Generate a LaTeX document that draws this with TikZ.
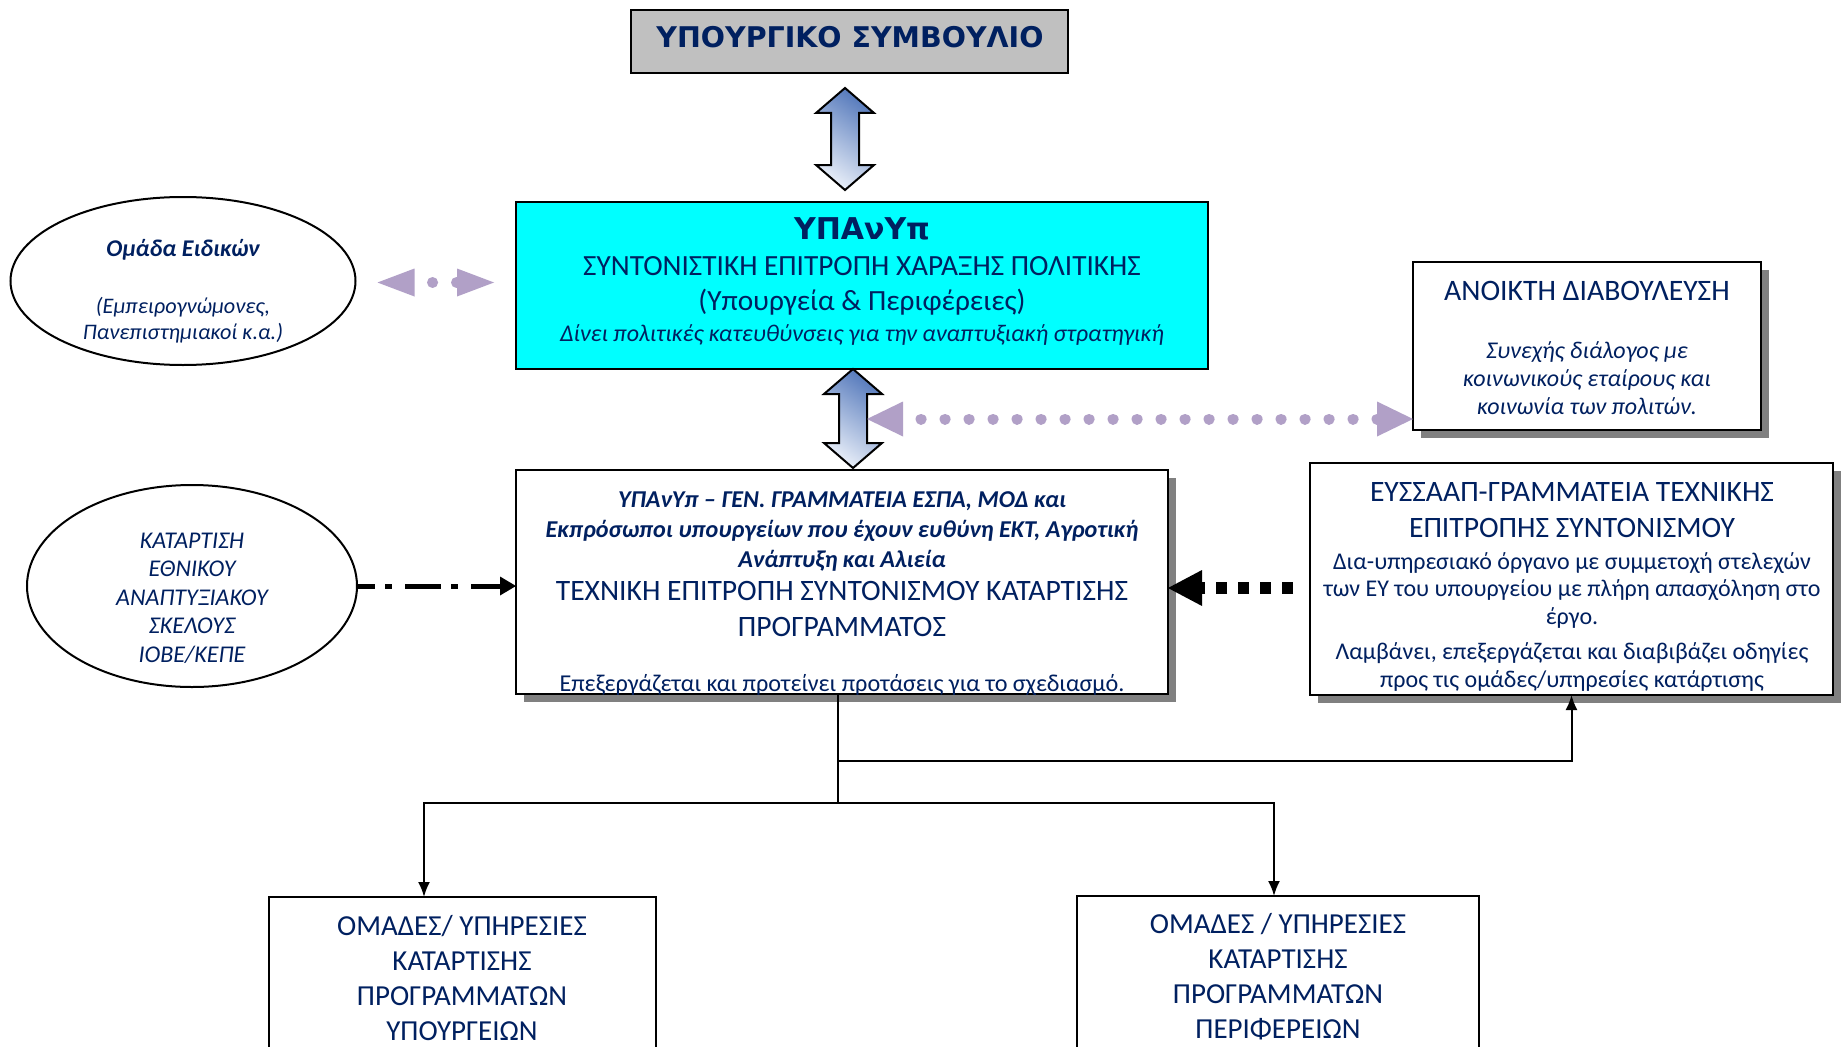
\documentclass[tikz,border=0pt]{standalone}
\usepackage{fontspec}
\setmainfont{Carlito}
\newfontfamily\heavyfont{DejaVu Sans}
\usetikzlibrary{arrows.meta,shapes.geometric,shadows,calc}
\definecolor{txtblue}{RGB}{0,32,96}
\definecolor{boxgray}{RGB}{192,192,192}
\definecolor{cyanfill}{RGB}{0,255,255}
\definecolor{lav}{RGB}{177,160,199}
\definecolor{shgray}{RGB}{128,128,128}
\definecolor{arrdark}{RGB}{86,122,188}
\definecolor{arrlight}{RGB}{232,238,248}
\newcommand\fsz[1]{\fontsize{#1}{#1}\selectfont}
\newcommand\dblarrow[2]{\path[blockarrow] let \p1=#1, \p2=#2 in
 (\x1,\y1) -- (\x1+29pt,\y1-25pt) -- (\x1+14pt,\y1-25pt) -- (\x1+14pt,\y2+25pt)
 -- (\x1+29pt,\y2+25pt) -- (\x1,\y2) -- (\x1-29pt,\y2+25pt) -- (\x1-14pt,\y2+25pt)
 -- (\x1-14pt,\y1-25pt) -- (\x1-29pt,\y1-25pt) -- cycle;}
\begin{document}
\begin{tikzpicture}[x=1pt,y=-1pt,
  box/.style={draw=black, line width=2pt, anchor=north west, inner sep=0pt, outer sep=0pt},
  shad/.style={drop shadow={shadow xshift=8pt, shadow yshift=-8pt, fill=shgray, opacity=1}},
  ell/.style={draw=black, line width=2pt, ellipse, inner sep=0pt, outer sep=0pt, fill=white},
  txt/.style={anchor=base, inner sep=0pt, outer sep=0pt, text=txtblue},
  blockarrow/.style={draw=black, line width=2pt, top color=arrdark, bottom color=arrlight, shading angle=-35},
  purpledots/.style={draw=lav, line width=11pt, line cap=round, dash pattern=on 0.1pt off 23.9pt, dash phase=6pt},
  conn/.style={draw=black, line width=2pt},
  ltip/.style={-{Latex[length=15pt,width=12pt]}},
]
\path[use as bounding box, clip] (0,0) rectangle (1843,1046);
\fill[white] (0,0) rectangle (1843,1046);

% boxes
\node[box, fill=boxgray, minimum width=437pt, minimum height=63pt] (top) at (631,10) {};
\node[box, fill=cyanfill, minimum width=692pt, minimum height=167pt] (cyan) at (516,202) {};
\node[box, shad, fill=white, minimum width=348pt, minimum height=168pt] (anoikti) at (1413,262) {};
\node[box, shad, fill=white, minimum width=652pt, minimum height=224pt] (lower) at (516,470) {};
\node[box, shad, fill=white, minimum width=523pt, minimum height=232pt] (eys) at (1310,463) {};
\node[box, fill=white, minimum width=387pt, minimum height=220pt] (bl) at (269,897) {};
\node[box, fill=white, minimum width=402pt, minimum height=220pt] (br) at (1077,896) {};
\node[ell, minimum width=345pt, minimum height=168pt] (ell1) at (183,281) {};
\node[ell, minimum width=330pt, minimum height=202pt] (ell2) at (192,586) {};

% texts
\node[txt, font=\heavyfont\bfseries\fsz{28.5}] (ttop) at (850,48) {ΥΠΟΥΡΓΙΚΟ ΣΥΜΒΟΥΛΙΟ};

\node[txt, font=\heavyfont\bfseries\fsz{30}] (c1) at (862,239) {ΥΠΑνΥπ};
\node[txt, font=\fsz{29.3}] (c2) at (862,275) {ΣΥΝΤΟΝΙΣΤΙΚΗ ΕΠΙΤΡΟΠΗ ΧΑΡΑΞΗΣ ΠΟΛΙΤΙΚΗΣ};
\node[txt, font=\fsz{29.3}] (c3) at (862,310) {(Υπουργεία \& Περιφέρειες)};
\node[txt, font=\itshape\fsz{24}] (c4) at (862,341) {Δίνει πολιτικές κατευθύνσεις για την αναπτυξιακή στρατηγική};

\node[txt, font=\bfseries\itshape\fsz{24}] (e1a) at (183,256) {Ομάδα Ειδικών};
\node[txt, font=\itshape\fsz{22.2}] (e1b) at (183,313) {(Εμπειρογνώμονες,};
\node[txt, font=\itshape\fsz{22.2}] (e1c) at (183,339) {Πανεπιστημιακοί κ.α.)};

\node[txt, font=\fsz{29.7}] (a1) at (1587,300) {ΑΝΟΙΚΤΗ ΔΙΑΒΟΥΛΕΥΣΗ};
\node[txt, font=\itshape\fsz{24}] (a2) at (1587,358) {Συνεχής διάλογος με};
\node[txt, font=\itshape\fsz{24}] (a3) at (1587,386) {κοινωνικούς εταίρους και};
\node[txt, font=\itshape\fsz{24}] (a4) at (1587,414) {κοινωνία των πολιτών.};

\node[txt, font=\itshape\fsz{24}] (e2a) at (192,548) {ΚΑΤΑΡΤΙΣΗ};
\node[txt, font=\itshape\fsz{24}] (e2b) at (192,576.5) {ΕΘΝΙΚΟΥ};
\node[txt, font=\itshape\fsz{24}] (e2c) at (192,605) {ΑΝΑΠΤΥΞΙΑΚΟΥ};
\node[txt, font=\itshape\fsz{24}] (e2d) at (192,633.5) {ΣΚΕΛΟΥΣ};
\node[txt, font=\itshape\fsz{24}] (e2e) at (192,662) {ΙΟΒΕ/ΚΕΠΕ};

\node[txt, font=\bfseries\itshape\fsz{24.2}] (l1) at (842,507) {ΥΠΑνΥπ – ΓΕΝ. ΓΡΑΜΜΑΤΕΙΑ ΕΣΠΑ, ΜΟΔ και};
\node[txt, font=\bfseries\itshape\fsz{24.2}] (l2) at (842,537) {Εκπρόσωποι υπουργείων που έχουν ευθύνη ΕΚΤ, Αγροτική};
\node[txt, font=\bfseries\itshape\fsz{24.2}] (l3) at (842,567) {Ανάπτυξη και Αλιεία};
\node[txt, font=\fsz{29.6}] (l4) at (842,600) {ΤΕΧΝΙΚΗ ΕΠΙΤΡΟΠΗ ΣΥΝΤΟΝΙΣΜΟΥ ΚΑΤΑΡΤΙΣΗΣ};
\node[txt, font=\fsz{29.6}] (l5) at (842,636) {ΠΡΟΓΡΑΜΜΑΤΟΣ};
\node[txt, font=\fsz{24.2}] (l6) at (842,691) {Επεξεργάζεται και προτείνει προτάσεις για το σχεδιασμό.};

\node[txt, font=\fsz{29.6}] (y1) at (1572,501) {ΕΥΣΣΑΑΠ-ΓΡΑΜΜΑΤΕΙΑ ΤΕΧΝΙΚΗΣ};
\node[txt, font=\fsz{29.6}] (y2) at (1572,537) {ΕΠΙΤΡΟΠΗΣ ΣΥΝΤΟΝΙΣΜΟΥ};
\node[txt, font=\fsz{24}] (y3) at (1572,569) {Δια-υπηρεσιακό όργανο με συμμετοχή στελεχών};
\node[txt, font=\fsz{24}] (y4) at (1572,596) {των ΕΥ του υπουργείου με πλήρη απασχόληση στο};
\node[txt, font=\fsz{24}] (y5) at (1572,624) {έργο.};
\node[txt, font=\fsz{24}] (y6) at (1572,659) {Λαμβάνει, επεξεργάζεται και διαβιβάζει οδηγίες};
\node[txt, font=\fsz{24}] (y7) at (1572,687) {προς τις ομάδες/υπηρεσίες κατάρτισης};

\node[txt, font=\fsz{29}] (b1) at (462,935) {ΟΜΑΔΕΣ/ ΥΠΗΡΕΣΙΕΣ};
\node[txt, font=\fsz{29}] (b2) at (462,970) {ΚΑΤΑΡΤΙΣΗΣ};
\node[txt, font=\fsz{29}] (b3) at (462,1005) {ΠΡΟΓΡΑΜΜΑΤΩΝ};
\node[txt, font=\fsz{29}] (b4) at (462,1040) {ΥΠΟΥΡΓΕΙΩΝ};

\node[txt, font=\fsz{29}] (r1) at (1278,933) {ΟΜΑΔΕΣ / ΥΠΗΡΕΣΙΕΣ};
\node[txt, font=\fsz{29}] (r2) at (1278,968) {ΚΑΤΑΡΤΙΣΗΣ};
\node[txt, font=\fsz{29}] (r3) at (1278,1003) {ΠΡΟΓΡΑΜΜΑΤΩΝ};
\node[txt, font=\fsz{29}] (r4) at (1278,1038) {ΠΕΡΙΦΕΡΕΙΩΝ};

% block arrows
\dblarrow{($(top.south)+(-4.5,15)$)}{($(cyan.north)+(-17,-12)$)}
\dblarrow{($(cyan.south)+(-9,0)$)}{($(lower.north)+(11,-2)$)}

% purple dotted arrows
\coordinate (midR) at ($(cyan.south)+(5,50)$);
\coordinate (cyanW) at ($(cyan.west)+(0,-3)$);
\draw[purpledots, {Triangle[length=36pt,width=35pt,line width=0pt]}-{Triangle[length=36pt,width=35pt,line width=0pt]}] (midR) -- (midR -| anoikti.west);
\draw[purpledots, {Triangle[length=37pt,width=28pt,line width=0pt]}-{Triangle[length=37pt,width=28pt,line width=0pt]}, shorten <=22pt, shorten >=22pt] (ell1.east |- cyanW) -- (cyanW);

% dash-dot arrow
\draw[line width=5pt, dash pattern=on 36pt off 10pt on 7pt off 13pt, dash phase=18pt, -{Triangle[length=16pt,width=19pt,line width=0pt]}] (ell2.east) -- (ell2.east -| lower.west);

% square dotted arrow
\coordinate (sqs) at ($(eys.west)+(0,9)$);
\draw[line width=12pt, dash pattern=on 11pt off 11pt, shorten <=17pt, -{Triangle[length=34pt,width=36pt,line width=0pt]}] (sqs) -- (sqs -| lower.east);

% bottom connectors
\coordinate (lsouth) at ($(lower.south)+(-4,0)$);
\coordinate (j1) at ($(lower.south)+(-4,67)$);
\coordinate (j2) at ($(lower.south)+(-4,109)$);
\coordinate (blin) at ($(bl.north west)+(155,0)$);
\coordinate (brin) at ($(br.north)+(-4,0)$);
\draw[conn] (lsouth) -- (j2);
\draw[conn, ltip] (j1) -| (eys.south);
\draw[conn, ltip] (j2) -| (blin);
\draw[conn, ltip] (j2) -| (brin);
\end{tikzpicture}
\end{document}
